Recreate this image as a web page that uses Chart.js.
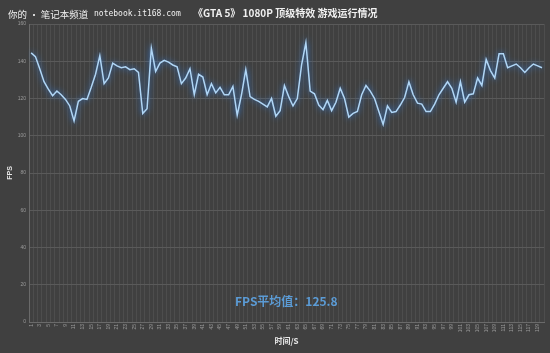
<!DOCTYPE html>
<html><head><meta charset="utf-8">
<script src="https://cdn.jsdelivr.net/npm/chart.js@4/dist/chart.umd.min.js"></script>
<style>html,body{margin:0;padding:0;background:#404040;}#wrap{width:550px;height:353px;}</style>
</head><body><div id="wrap"><canvas id="c" width="550" height="353"></canvas></div>
<script>
const watermark = "你的 • 笔记本频道";
const watermarkUrl = "notebook.it168.com";
const titleText = "《GTA 5》 1080P 顶级特效 游戏运行情况";
const avgText = "FPS平均值：125.8";
const xTitle = "时间/S";
const yTitle = "FPS";
const seconds = Array.from({length:120},(_,i)=>String(i+1));
const fps = [144.5,142.5,136,129,125,121.5,124,122,119.5,116,
108,118.5,120,119.5,126,133,143,128,131,139,
137.5,136.5,137,135.5,136,134,112,114.5,147,134.5,
139,140.5,139.5,138,137,128,131,136,122,133,
131.5,122,128,123,126,122,122,126.5,111,122,
135.5,121,119.5,118.5,117,115.5,120,110.5,113.5,127,
121,116,120,138,150,124,122.5,116.5,114,119,
113.5,118,125.5,120,110,112,113,122,127,124,
120,113,106,116,112.5,113,116.5,120.5,129,122,
117.5,117,113,113,117,122,125.5,129,125.5,118,
129,118,122,122.5,131,127,141,135,131,144,
144,136.5,137.5,138.5,136.5,134,136.5,138.5,137.5,136.5];
const yTicks = [0,20,40,60,80,100,120,140,160];

const bg = {id:'bg',beforeDraw(c){const x=c.ctx;x.save();x.fillStyle='#404040';x.fillRect(0,0,c.width,c.height);x.restore();}};
const glow = {id:'glow',
 beforeDatasetDraw(c){const x=c.ctx;x.save();x.shadowColor='rgba(50,130,230,1)';x.shadowBlur=6;},
 afterDatasetDraw(c){c.ctx.restore();}};
const texts = {id:'texts',afterDraw(c){const x=c.ctx;x.save();x.textBaseline='middle';
 x.fillStyle='#f0f0f0';x.font='9.5px "Noto Sans CJK SC"';x.fillText(watermark,8,14);
 x.font='8px "DejaVu Sans Mono"';x.fillText(watermarkUrl,94,14);
 x.font='bold 10px "Noto Sans CJK SC"';x.fillText(titleText,193,13);
 x.fillStyle='#5b9bd5';x.font='bold 12px "Noto Sans CJK SC"';x.fillText(avgText,235,301);
 x.restore();}};

new Chart(document.getElementById('c'),{
 type:'line',
 data:{labels:seconds,datasets:[{data:fps,borderColor:'#b0d6f6',borderWidth:1.5,pointRadius:0,tension:0,fill:false}]},
 plugins:[bg,glow,texts],
 options:{responsive:false,animation:false,
  layout:{padding:{top:24,right:5,left:0,bottom:0}},
  plugins:{legend:{display:false},tooltip:{enabled:false}},
  scales:{
   x:{offset:true,grid:{offset:true,color:'rgba(255,255,255,0.07)',drawTicks:false},border:{color:'#6a6a6a'},
     ticks:{autoSkip:false,minRotation:90,maxRotation:90,color:'#9a9a9a',font:{size:5},padding:2,
       callback:(v,i)=> i%2===0 ? seconds[i] : ''},
     title:{display:true,text:xTitle,color:'#e8e8e8',font:{size:8,weight:'bold',family:'"Noto Sans CJK SC"'},padding:{top:0,bottom:7}},
     afterFit(s){s.height=31;}},
   y:{min:0,max:160,afterBuildTicks(s){s.ticks=yTicks.map(v=>({value:v}));},
     grid:{color:'#5a5a5a',drawTicks:false},border:{color:'#6a6a6a'},
     ticks:{color:'#9a9a9a',font:{size:5},padding:3},
     title:{display:true,text:yTitle,color:'#e8e8e8',font:{size:7,weight:'bold'},padding:{top:6,bottom:2}},
     afterFit(s){s.width=29;}}
  }}
});
</script></body></html>
